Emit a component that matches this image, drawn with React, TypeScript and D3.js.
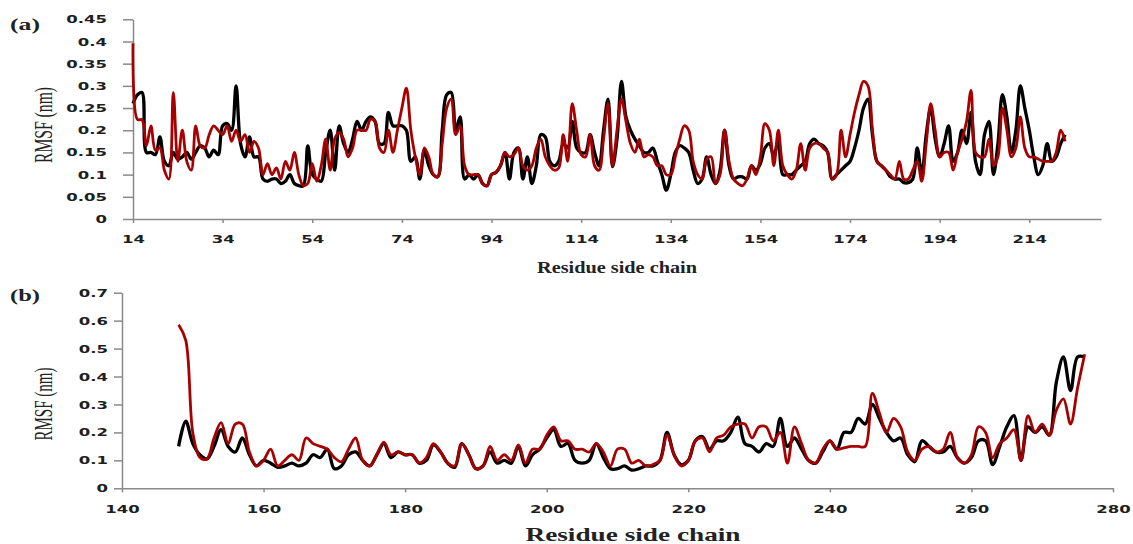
import React, { useEffect, useRef } from "react";
import * as d3 from "d3";

// panel (a): residues 14..222
const startA = 14;
const blackA = [
  0.26, 0.28, 0.285, 0.15, 0.15, 0.145, 0.185, 0.13, 0.12, 0.15,
  0.135, 0.14, 0.15, 0.135, 0.15, 0.165, 0.16, 0.14, 0.155, 0.145,
  0.21, 0.215, 0.2, 0.3, 0.17, 0.14, 0.185, 0.14, 0.14, 0.09,
  0.085, 0.09, 0.09, 0.08, 0.085, 0.1, 0.08, 0.075, 0.075, 0.165,
  0.1, 0.09, 0.085, 0.15, 0.2, 0.11, 0.21, 0.17, 0.15, 0.18,
  0.22, 0.2, 0.22, 0.23, 0.22, 0.17, 0.17, 0.24, 0.21, 0.21,
  0.21, 0.2, 0.13, 0.14, 0.09, 0.155, 0.12, 0.1, 0.095, 0.2,
  0.28, 0.285, 0.2, 0.23, 0.09, 0.1, 0.09, 0.1, 0.08, 0.075,
  0.1, 0.105, 0.12, 0.15, 0.09, 0.15, 0.16, 0.09, 0.14, 0.08,
  0.12, 0.19, 0.185, 0.13, 0.12, 0.13, 0.17, 0.16, 0.22, 0.16,
  0.15, 0.15, 0.19, 0.15, 0.12, 0.2, 0.27, 0.118, 0.18, 0.31,
  0.23, 0.2, 0.18, 0.165, 0.15, 0.15, 0.16, 0.13, 0.1, 0.065,
  0.1, 0.15, 0.165, 0.16, 0.15, 0.11, 0.08, 0.09, 0.14, 0.1,
  0.08, 0.11, 0.2, 0.12, 0.09, 0.095, 0.095, 0.09, 0.12, 0.11,
  0.125, 0.16, 0.17, 0.14, 0.18, 0.1, 0.1, 0.1, 0.11, 0.12,
  0.13, 0.17, 0.18, 0.17, 0.165, 0.15, 0.09, 0.1, 0.11, 0.12,
  0.13, 0.16, 0.2, 0.25, 0.27, 0.19, 0.13, 0.12, 0.11, 0.095,
  0.09, 0.09, 0.082, 0.082, 0.09, 0.16, 0.1, 0.19, 0.25, 0.18,
  0.14, 0.17, 0.21, 0.13, 0.15, 0.2, 0.17, 0.24, 0.13, 0.1,
  0.19, 0.22, 0.1, 0.17, 0.28, 0.23, 0.15, 0.2, 0.3, 0.25,
  0.2, 0.14, 0.1, 0.12, 0.17, 0.13, 0.14, 0.17, 0.19,
];
const redA = [
  0.396, 0.224, 0.224, 0.165, 0.21, 0.155, 0.16, 0.11, 0.09, 0.285,
  0.13, 0.2, 0.13, 0.11, 0.21, 0.165, 0.16, 0.19, 0.21, 0.2,
  0.19, 0.21, 0.175, 0.2, 0.175, 0.19, 0.15, 0.175, 0.16, 0.1,
  0.125, 0.1, 0.115, 0.09, 0.13, 0.11, 0.15, 0.1, 0.075, 0.08,
  0.125, 0.085, 0.12, 0.18, 0.11, 0.18, 0.195, 0.18, 0.14, 0.16,
  0.2, 0.2, 0.2, 0.225, 0.22, 0.16, 0.15, 0.2, 0.15, 0.2,
  0.25, 0.295, 0.2, 0.14, 0.1, 0.16, 0.14, 0.1, 0.095, 0.17,
  0.25, 0.27, 0.19, 0.21, 0.12, 0.1, 0.1, 0.1, 0.08, 0.075,
  0.1, 0.105, 0.12, 0.15, 0.14, 0.145, 0.16, 0.12, 0.11, 0.12,
  0.16, 0.18, 0.14, 0.12, 0.11, 0.115, 0.19, 0.13, 0.26, 0.2,
  0.145, 0.14, 0.19, 0.12, 0.11, 0.18, 0.26, 0.12, 0.2, 0.27,
  0.22, 0.17, 0.15, 0.18, 0.14, 0.145, 0.14, 0.12, 0.12, 0.1,
  0.1, 0.14, 0.18, 0.21, 0.2, 0.13, 0.1, 0.09, 0.135, 0.14,
  0.08, 0.1, 0.2, 0.13, 0.09, 0.08, 0.075, 0.09, 0.12, 0.1,
  0.14, 0.215, 0.2, 0.12, 0.2, 0.12, 0.1, 0.09, 0.11, 0.17,
  0.11, 0.16, 0.17, 0.17, 0.16, 0.15, 0.09, 0.1, 0.2, 0.14,
  0.19, 0.24, 0.28, 0.31, 0.3, 0.2, 0.13, 0.12, 0.11, 0.1,
  0.09, 0.13, 0.09, 0.09, 0.11, 0.13, 0.085, 0.17, 0.26, 0.2,
  0.14, 0.15, 0.15, 0.11, 0.15, 0.18, 0.22, 0.29, 0.15, 0.14,
  0.14, 0.18, 0.12, 0.14, 0.25, 0.2, 0.14, 0.16, 0.23, 0.16,
  0.14, 0.14, 0.135, 0.13, 0.13, 0.13, 0.15, 0.2, 0.175,
];

// panel (b): residues 148..276
const startB = 148;
const blackB = [
  0.15, 0.24, 0.16, 0.12, 0.105, 0.15, 0.21, 0.15, 0.13, 0.18,
  0.12, 0.08, 0.1, 0.09, 0.075, 0.08, 0.09, 0.08, 0.09, 0.12,
  0.11, 0.14, 0.07, 0.08, 0.12, 0.13, 0.1, 0.08, 0.12, 0.16,
  0.11, 0.13, 0.12, 0.12, 0.09, 0.1, 0.155, 0.13, 0.09, 0.075,
  0.16, 0.12, 0.07, 0.08, 0.13, 0.09, 0.1, 0.09, 0.15, 0.08,
  0.12, 0.14, 0.18, 0.21, 0.15, 0.16, 0.1, 0.09, 0.1, 0.16,
  0.11, 0.07, 0.07, 0.08, 0.065, 0.07, 0.08, 0.08, 0.1, 0.2,
  0.12, 0.085, 0.1, 0.17, 0.185, 0.14, 0.17, 0.17, 0.2, 0.255,
  0.16, 0.15, 0.13, 0.16, 0.15, 0.25, 0.15, 0.18, 0.14, 0.1,
  0.09, 0.13, 0.17, 0.14, 0.2, 0.2, 0.25, 0.23, 0.3, 0.25,
  0.2, 0.17, 0.18, 0.12, 0.095, 0.17, 0.15, 0.13, 0.13, 0.15,
  0.11, 0.09, 0.11, 0.17, 0.17, 0.085, 0.15, 0.22, 0.26, 0.1,
  0.22, 0.2, 0.22, 0.19, 0.38, 0.47, 0.35, 0.47, 0.47,
];
const redB = [
  0.585, 0.53, 0.2, 0.11, 0.105, 0.18, 0.235, 0.16, 0.23, 0.23,
  0.13, 0.08, 0.1, 0.14, 0.08, 0.1, 0.12, 0.1, 0.18, 0.16,
  0.15, 0.14, 0.11, 0.095, 0.14, 0.18, 0.1, 0.08, 0.12, 0.165,
  0.12, 0.13, 0.12, 0.12, 0.09, 0.11, 0.16, 0.13, 0.09, 0.08,
  0.16, 0.12, 0.07, 0.08, 0.15, 0.1, 0.12, 0.1, 0.155, 0.09,
  0.14, 0.14, 0.19, 0.22, 0.17, 0.17, 0.14, 0.14, 0.13, 0.16,
  0.13, 0.08, 0.14, 0.14, 0.09, 0.1, 0.08, 0.085, 0.1, 0.19,
  0.12, 0.08, 0.1, 0.17, 0.18, 0.13, 0.18, 0.19, 0.22, 0.23,
  0.23, 0.18, 0.22, 0.22, 0.17, 0.2, 0.09, 0.22, 0.16, 0.1,
  0.09, 0.14, 0.17, 0.14, 0.145, 0.15, 0.15, 0.15, 0.34, 0.27,
  0.2, 0.25, 0.22, 0.13, 0.1, 0.14, 0.15, 0.13, 0.14, 0.2,
  0.11, 0.09, 0.12, 0.22, 0.2, 0.11, 0.16, 0.18, 0.21, 0.1,
  0.26, 0.2, 0.23, 0.19, 0.28, 0.32, 0.23, 0.36, 0.48,
];

const ticksXA = [14, 34, 54, 74, 94, 114, 134, 154, 174, 194, 214];
const ticksYA = [0, 0.05, 0.1, 0.15, 0.2, 0.25, 0.3, 0.35, 0.4, 0.45];
const ticksXB = [140, 160, 180, 200, 220, 240, 260, 280];
const ticksYB = [0, 0.1, 0.2, 0.3, 0.4, 0.5, 0.6, 0.7];

const RED = "#a80000";
const AXIS = "#8a8a8a";
const SX = 1.5; // the figure is stretched horizontally

type Panel = {
  label: string;
  start: number;
  black: number[];
  red: number[];
  xDomain: [number, number];
  xRange: [number, number];
  yDomain: [number, number];
  yRange: [number, number];
  xTicks: number[];
  yTicks: number[];
  yTickSize: number;
  yLabelGap: number;
  xLabelY: number;
  labelY: number;
  titleX: number;
  titleY: number;
  titleSize: number;
  titleLen: number;
  yTitleY: number;
  yTitleLen: number;
};

const panels: Panel[] = [
  {
    label: "(a)",
    start: startA,
    black: blackA,
    red: redA,
    xDomain: [14, 230],
    xRange: [133, 1101],
    yDomain: [0, 0.45],
    yRange: [219, 19.3],
    xTicks: ticksXA,
    yTicks: ticksYA,
    yTickSize: 10,
    yLabelGap: 26,
    xLabelY: 16,
    labelY: 30,
    titleX: 617,
    titleY: 273,
    titleSize: 16,
    titleLen: 160,
    yTitleY: 125,
    yTitleLen: 76,
  },
  {
    label: "(b)",
    start: startB,
    black: blackB,
    red: redB,
    xDomain: [140, 280],
    xRange: [122, 1113],
    yDomain: [0, 0.7],
    yRange: [488.3, 292.7],
    xTicks: ticksXB,
    yTicks: ticksYB,
    yTickSize: 8,
    yLabelGap: 14,
    xLabelY: 17,
    labelY: 301,
    titleX: 633,
    titleY: 541,
    titleSize: 19,
    titleLen: 215,
    yTitleY: 404,
    yTitleLen: 73,
  },
];

const App: React.FC = () => {
  const svgRef = useRef<SVGSVGElement | null>(null);

  useEffect(() => {
    if (!svgRef.current) return;
    const svg = d3.select(svgRef.current);
    svg.selectAll("*").remove();

    panels.forEach((p) => {
      const x = d3.scaleLinear().domain(p.xDomain).range(p.xRange);
      const y = d3.scaleLinear().domain(p.yDomain).range(p.yRange);
      const g = svg.append("g");

      // axes
      const gx = g
        .append("g")
        .attr("transform", `translate(0,${p.yRange[0]})`)
        .call(
          d3
            .axisBottom(x)
            .tickValues(p.xTicks)
            .tickSize(4)
            .tickPadding(p.xLabelY - 4)
            .tickSizeOuter(0)
            .tickFormat(d3.format("d"))
        );
      const gy = g
        .append("g")
        .attr("transform", `translate(${p.xRange[0]},0)`)
        .call(
          d3
            .axisLeft(y)
            .tickValues(p.yTicks)
            .tickSize(p.yTickSize)
            .tickSizeOuter(0)
            .tickFormat((d) => String(+(+d).toFixed(2)))
        );
      [gx, gy].forEach((a) => {
        a.select(".domain").attr("stroke", AXIS).attr("stroke-width", 1.5);
        a.selectAll(".tick line").attr("stroke", AXIS).attr("stroke-width", 1.5);
        a.selectAll(".tick text")
          .attr("font-family", "DejaVu Sans")
          .attr("font-weight", "bold")
          .attr("font-size", 11)
          .attr("fill", "#1e1e1e")
          .attr("transform", `scale(${SX},1)`);
      });
      gy.selectAll(".tick text").attr("x", -p.yLabelGap / SX);

      // lines
      const line = d3
        .line<number>()
        .x((_, i) => x(p.start + i))
        .y((d) => y(d))
        .curve(d3.curveCatmullRom.alpha(0.5));
      g.append("path")
        .datum(p.black)
        .attr("fill", "none")
        .attr("stroke", "#000")
        .attr("stroke-width", 3.3)
        .attr("stroke-linejoin", "round")
        .attr("d", line);
      g.append("path")
        .datum(p.red)
        .attr("fill", "none")
        .attr("stroke", RED)
        .attr("stroke-width", 2.8)
        .attr("stroke-linejoin", "round")
        .attr("d", line);

      // labels
      g.append("text")
        .attr("x", 10)
        .attr("y", p.labelY)
        .attr("font-family", "Liberation Serif")
        .attr("font-weight", "bold")
        .attr("font-size", 16)
        .attr("textLength", 30)
        .attr("lengthAdjust", "spacingAndGlyphs")
        .attr("fill", "#222")
        .text(p.label);

      g.append("text")
        .attr("x", p.titleX)
        .attr("y", p.titleY)
        .attr("text-anchor", "middle")
        .attr("font-family", "Liberation Serif")
        .attr("font-weight", "bold")
        .attr("font-size", p.titleSize)
        .attr("textLength", p.titleLen)
        .attr("lengthAdjust", "spacingAndGlyphs")
        .attr("fill", "#222")
        .text("Residue side chain");

      g.append("text")
        .attr("transform", `translate(52,${p.yTitleY}) scale(${SX},1) rotate(-90)`)
        .attr("text-anchor", "middle")
        .attr("font-family", "Liberation Serif")
        .attr("font-size", 17)
        .attr("textLength", p.yTitleLen)
        .attr("lengthAdjust", "spacingAndGlyphs")
        .attr("fill", "#222")
        .text("RMSF (nm)");
    });

    return () => {
      svg.selectAll("*").remove();
    };
  }, []);

  return (
    <svg
      ref={svgRef}
      width={1133}
      height={544}
      style={{ position: "absolute", left: 0, top: 0, background: "#fff" }}
    ></svg>
  );
};

export default App;
